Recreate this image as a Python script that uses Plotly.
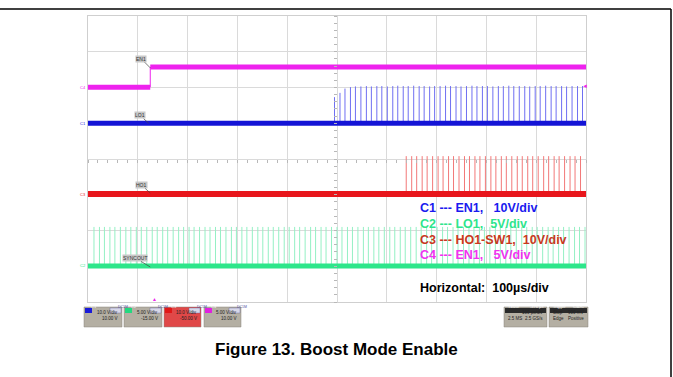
import plotly.graph_objects as go

# ---------------- data (time in µs, amplitude in divisions) ----------------
en1_step_t = -375
en1_low = 2.01
en1_high = 2.57

lo1_base = 1.0
lo1_pulse_t = [-5, 6, 16, 27, 37, 48, 59, 69, 80, 90, 101, 112, 122, 133, 143, 154,
               165, 175, 186, 196, 207, 218, 228, 239, 249, 260, 271, 281, 292, 302,
               313, 324, 334, 345, 355, 366, 377, 387, 398, 408, 419, 430, 440, 451,
               461, 472, 483, 493]
lo1_pulse_top = [1.73, 1.85, 1.97, 2.01, 2.03, 2.03, 2.04, 2.03, 2.04, 2.04, 2.03, 2.04,
                 2.05, 2.04, 2.04, 2.05, 2.04, 2.04, 2.03, 2.04, 2.04, 2.05, 2.04, 2.04,
                 2.03, 2.04, 2.05, 2.04, 2.04, 2.04, 2.03, 2.04, 2.04, 2.05, 2.04, 2.04,
                 2.04, 2.03, 2.04, 2.04, 2.05, 2.04, 2.04, 2.04, 2.03, 2.04, 2.04, 2.04]

ho1_base = -0.98
ho1_pulse_t = [139, 150, 160, 171, 181, 192, 203, 213, 224, 234, 245, 256, 266, 277,
               287, 298, 309, 319, 330, 340, 351, 362, 372, 383, 393, 404, 415, 425,
               436, 446, 457, 468, 478, 489]
ho1_pulse_top = 0.08

sync_base = -2.99
sync_pulse_t = [-488, -477, -467, -456, -446, -435, -424, -414, -403, -393, -382, -371,
                -361, -350, -340, -329, -318, -308, -297, -287, -276, -265, -255, -244,
                -234, -223, -212, -202, -191, -181, -170, -159, -149, -138, -128, -117,
                -106, -96, -85, -75, -64, -53, -43, -32, -22, -11, 0, 10, 21, 31, 42,
                53, 63, 74, 84, 95, 106, 116, 127, 137, 148, 159, 169, 180, 190, 201,
                212, 222, 233, 243, 254, 265, 275, 286, 296, 307, 318, 328, 339, 349,
                360, 371, 381, 392, 402, 413, 424, 434, 445, 455, 466, 477, 487, 498]
sync_pulse_top = -1.90

legend_lines = ["C1 --- EN1,   10V/div", "C2 --- LO1,  5V/div",
                "C3 --- HO1-SW1,  10V/div", "C4 --- EN1,   5V/div"]
legend_colors = ["#1a1aef", "#2ee58c", "#c8391e", "#f033f0"]
horizontal_text = "Horizontal:  100µs/div"
title_text = "Figure 13. Boost Mode Enable"

# ---------------- geometry helpers (layout only) ----------------
W, H = 673, 377
L, R, T, B = 88, 586, 16, 302


def px(x):
    return (x - L) / (R - L)


def py(y):
    return (B - y) / (B - T)


def pulses(times, base, tops):
    if not isinstance(tops, list):
        tops = [tops] * len(times)
    xs, ys = [], []
    for t, top in zip(times, tops):
        xs += [t, t, None]
        ys += [base, top, None]
    return xs, ys


fig = go.Figure()

# pulse trains (thin, lighter) drawn beneath baselines
for times, base, tops, col in [
    (lo1_pulse_t, lo1_base, lo1_pulse_top, "#6f6ff2"),
    (ho1_pulse_t, ho1_base, ho1_pulse_top, "#f27878"),
    (sync_pulse_t, sync_base, sync_pulse_top, "#94f0c4"),
]:
    xs, ys = pulses(times, base, tops)
    fig.add_trace(go.Scatter(x=xs, y=ys, mode="lines", line=dict(color=col, width=1),
                             hoverinfo="skip", showlegend=False))

# baselines
fig.add_trace(go.Scatter(x=[-500, 500], y=[lo1_base, lo1_base], mode="lines",
                         line=dict(color="#1414d6", width=5), showlegend=False))
fig.add_trace(go.Scatter(x=[-500, 500], y=[ho1_base, ho1_base], mode="lines",
                         line=dict(color="#e8161c", width=6), showlegend=False))
fig.add_trace(go.Scatter(x=[-500, 500], y=[sync_base, sync_base], mode="lines",
                         line=dict(color="#2de68a", width=5), showlegend=False))
# EN1: thin edge, thick levels
fig.add_trace(go.Scatter(x=[en1_step_t, en1_step_t], y=[en1_low, en1_high], mode="lines",
                         line=dict(color="#ee22ee", width=1), showlegend=False))
fig.add_trace(go.Scatter(x=[-500, en1_step_t, None, en1_step_t, 500],
                         y=[en1_low, en1_low, None, en1_high, en1_high], mode="lines",
                         line=dict(color="#ee22ee", width=5), showlegend=False))

# dummy trace for centre tick axes
fig.add_trace(go.Scatter(x=[None], y=[None], xaxis="x2", yaxis="y2", showlegend=False))

fig.update_layout(
    width=W, height=H,
    margin=dict(l=L, r=W - R, t=T, b=H - B, pad=0),
    paper_bgcolor="white", plot_bgcolor="white",
    showlegend=False,
    xaxis=dict(range=[-500, 500], dtick=100, tick0=0, showgrid=True, gridcolor="#dadada",
               gridwidth=1, zeroline=False, showticklabels=False, ticks="",
               showline=True, mirror=True, linecolor="#cfcfcf", linewidth=1, fixedrange=True),
    yaxis=dict(range=[-4, 4], dtick=1, tick0=0, showgrid=True, gridcolor="#dadada",
               gridwidth=1, zeroline=False, showticklabels=False, ticks="",
               showline=True, mirror=True, linecolor="#cfcfcf", linewidth=1, fixedrange=True),
    xaxis2=dict(range=[-500, 500], overlaying="x", anchor="free", position=0.5,
                showgrid=False, zeroline=False, showticklabels=False, showline=False,
                ticks="outside", ticklen=3, tickcolor="#b8b8b8", dtick=20, tick0=0,
                fixedrange=True),
    yaxis2=dict(range=[-4, 4], overlaying="y", anchor="free", position=0.5,
                showgrid=False, zeroline=False, showticklabels=False, showline=False,
                ticks="outside", ticklen=3, tickcolor="#b8b8b8", dtick=0.2, tick0=0,
                fixedrange=True),
    font=dict(family="Liberation Sans, Arial, sans-serif"),
)

shapes = []
# page frame lines
shapes.append(dict(type="line", xref="paper", yref="paper", x0=px(0), x1=px(671),
                   y0=py(9), y1=py(9), line=dict(color="black", width=1.5)))
shapes.append(dict(type="line", xref="paper", yref="paper", x0=px(671), x1=px(671),
                   y0=py(9), y1=py(377), line=dict(color="black", width=1.5)))

annotations = []

# trace labels with leader lines
for text, t, v, ax, ay in [("EN1", -375, 2.55, -9, -9), ("LO1", -378, 1.0, -9, -8),
                           ("HO1", -375, -0.95, -9, -8), ("SYNCOUT", -375, -3.02, -15, -9)]:
    annotations.append(dict(x=t, y=v, xref="x", yref="y", text=text, showarrow=True,
                            ax=ax, ay=ay, arrowhead=0, arrowwidth=0.7, arrowcolor="#444",
                            font=dict(size=5, color="#333"), bgcolor="#c8c8c8",
                            borderpad=0, standoff=0))

# channel markers on left
for text, v, col in [("C4", 2.01, "#ee22ee"), ("C1", 1.0, "#1414d6"),
                     ("C3", -0.98, "#e8161c"), ("C2", -2.99, "#2de68a")]:
    annotations.append(dict(x=0, y=v, xref="paper", yref="y", text=text, showarrow=False,
                            xanchor="right", font=dict(size=4, color=col)))

# trigger markers
annotations.append(dict(x=px(590), y=py(81), xref="paper", yref="paper", text="◄",
                        showarrow=False, font=dict(size=6, color="#ee22ee")))
annotations.append(dict(x=px(150), y=py(304), xref="paper", yref="paper", text="▲",
                        showarrow=False, font=dict(size=5, color="#ee22ee")))

# channel legend text
for i, (txt, col) in enumerate(zip(legend_lines, legend_colors)):
    yy = [208, 224, 240, 255][i]
    annotations.append(dict(x=px(418), y=py(yy), xref="paper", yref="paper",
                            text="<b>" + txt.replace(" ", "\u00a0") + "</b>",
                            showarrow=False, xanchor="left", yanchor="middle",
                            font=dict(size=12.5, color=col)))
annotations.append(dict(x=px(418), y=py(288), xref="paper", yref="paper",
                        text="<b>" + horizontal_text.replace(" ", "\u00a0") + "</b>",
                        showarrow=False, xanchor="left", yanchor="middle",
                        font=dict(size=12.5, color="black")))

# status boxes
boxes = [
    (84, 122, "C1", "#1a1ad8", ["10.0 V/div", "10.00 V"], False),
    (124, 162, "C2", "#22d880", ["5.00 V/div", "-15.00 V"], False),
    (164, 201, "C3", "#e01818", ["10.0 V/div", "-50.00 V"], True),
    (204, 241, "C4", "#e020e0", ["5.00 V/div", "10.00 V"], False),
]
for x0, x1, ch, col, lines, red in boxes:
    shapes.append(dict(type="rect", xref="paper", yref="paper", x0=px(x0), x1=px(x1),
                       y0=py(327), y1=py(307), fillcolor="#e04848" if red else "#b4afa3",
                       line=dict(color="#8a877f", width=0.5), layer="above"))
    shapes.append(dict(type="rect", xref="paper", yref="paper", x0=px(x0 + 1), x1=px(x0 + 8),
                       y0=py(313), y1=py(308), fillcolor=col, line=dict(width=0),
                       layer="above"))
    shapes.append(dict(type="rect", xref="paper", yref="paper", x0=px(x1 - 12), x1=px(x1 - 1),
                       y0=py(313), y1=py(308), fillcolor="#d8d8e8",
                       line=dict(color="#6060a0", width=0.4), layer="above"))
    annotations.append(dict(x=px(x0 + 4.5), y=py(310.5), xref="paper", yref="paper", text=ch,
                            showarrow=False, font=dict(size=4, color="white")))
    annotations.append(dict(x=px(x1 - 6.5), y=py(310.5), xref="paper", yref="paper",
                            text="DC1M", showarrow=False, font=dict(size=3.5, color="#5050a0")))
    for j, ln in enumerate(lines):
        annotations.append(dict(x=px(x1 - 2), y=py(317 + 6 * j), xref="paper", yref="paper",
                                text=ln, showarrow=False, xanchor="right",
                                font=dict(size=4.5, color="#222")))

for x0, x1, head, lines in [
    (504, 547, ["Tbase", "-376 µs"], [["", "100 µs/div"], ["2.5 MS", "2.5 GS/s"]]),
    (549, 588, ["Trigger", "C4DC"], [["Stop", "900 mV"], ["Edge", "Positive"]]),
]:
    shapes.append(dict(type="rect", xref="paper", yref="paper", x0=px(x0), x1=px(x1),
                       y0=py(327), y1=py(307), fillcolor="#b4afa3",
                       line=dict(color="#8a877f", width=0.5), layer="above"))
    shapes.append(dict(type="rect", xref="paper", yref="paper", x0=px(x0 + 1), x1=px(x1 - 1),
                       y0=py(313), y1=py(308), fillcolor="#2a2a2a", line=dict(width=0),
                       layer="above"))
    annotations.append(dict(x=px(x0 + 2), y=py(310.5), xref="paper", yref="paper",
                            text=head[0], showarrow=False, xanchor="left",
                            font=dict(size=4, color="white")))
    annotations.append(dict(x=px(x1 - 2), y=py(310.5), xref="paper", yref="paper",
                            text=head[1], showarrow=False, xanchor="right",
                            font=dict(size=4, color="white")))
    for j, (a, b) in enumerate(lines):
        annotations.append(dict(x=px(x0 + 2), y=py(317 + 6 * j), xref="paper", yref="paper",
                                text=a, showarrow=False, xanchor="left",
                                font=dict(size=4.5, color="#222")))
        annotations.append(dict(x=px(x1 - 2), y=py(317 + 6 * j), xref="paper", yref="paper",
                                text=b, showarrow=False, xanchor="right",
                                font=dict(size=4.5, color="#222")))

# title
annotations.append(dict(x=px(336), y=py(349), xref="paper", yref="paper",
                        text="<b>" + title_text + "</b>", showarrow=False,
                        xanchor="center", yanchor="middle",
                        font=dict(size=17, color="black")))

fig.update_layout(shapes=shapes, annotations=annotations)
fig.write_html("out.html", config={"displayModeBar": False})
